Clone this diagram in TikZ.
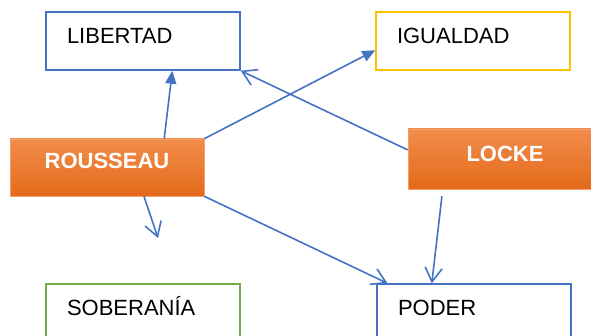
\documentclass[tikz,border=0pt]{standalone}
\usepackage{fontspec}
\setmainfont{Liberation Sans}
\usetikzlibrary{arrows.meta,calc}
\definecolor{offblue}{HTML}{4472C4}
\definecolor{offyellow}{HTML}{FFC000}
\definecolor{offgreen}{HTML}{70AD47}
\definecolor{orangetop}{HTML}{F28D4C}
\definecolor{orangebot}{HTML}{E46A19}
\definecolor{orangeedge}{HTML}{F3A06A}
\begin{document}
\begin{tikzpicture}[x=1pt,y=-1pt,
  outbox/.style={rectangle, line width=1.4pt, fill=white, minimum width=194pt, minimum height=58pt,
    inner xsep=21pt, inner ysep=0pt, text width=152pt, align=left,
    text height=16pt, text depth=10pt, font=\fontsize{22}{24}\selectfont},
  hotbox/.style={rectangle, draw=orangeedge, line width=0.6pt, top color=orangetop, bottom color=orangebot,
    minimum width=194pt, inner sep=0pt, text=white, font=\fontsize{22}{24}\selectfont\bfseries},
  conn/.style={draw=offblue, line width=1.6pt},
  filledtip/.style={conn, -{Triangle[length=13pt,width=11pt]}},
  opentip/.style={conn, -{Straight Barb[length=14pt,width=17pt,line width=1.6pt]}}
]
\useasboundingbox (0,0) rectangle (591,336);
\fill[white] (0,0) rectangle (591,336);

\node[outbox, draw=offblue] (lib) at (143,41) {LIBERTAD};
\node[outbox, draw=offyellow] (igu) at (473,41) {IGUALDAD};
\node[outbox, draw=offgreen] (sob) at (143,313) {SOBERANÍA};
\node[outbox, draw=offblue] (pod) at (474,313) {PODER};

\node[hotbox, minimum height=57pt, text height=16pt, text depth=13pt] (rou) at (107,167.5) {ROUSSEAU};
\node[hotbox, minimum height=60pt, text height=16pt, text depth=10.6pt] (loc) at (505,159) {LOCKE};

\coordinate (free) at (158,238);

\draw[filledtip] ($(rou.north west)!0.794!(rou.north east)$) -- ($(lib.south west)!0.65!(lib.south east)$);
\draw[filledtip] (rou.north east) -- ($(igu.south west)!0.345!(igu.north west)$);
\draw[opentip] ($(loc.north west)!0.35!(loc.south west)$) -- (lib.south east);
\draw[opentip] ($(rou.south west)!0.69!(rou.south east)$) -- (free);
\draw[opentip] (rou.south east) -- ($(pod.north west)!0.057!(pod.north east)$);
\draw[opentip, shorten <=7pt] ($(loc.south west)!0.18!(loc.south east)$) -- ($(pod.north west)!0.284!(pod.north east)$);
\end{tikzpicture}
\end{document}
